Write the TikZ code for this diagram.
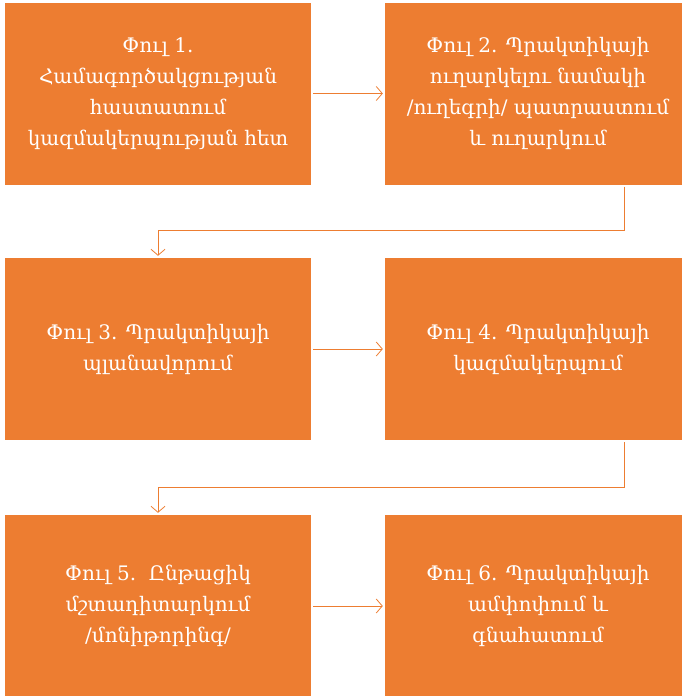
\documentclass[tikz,border=0pt]{standalone}
\usepackage{fontspec}
\setmainfont{DejaVu Serif}
\usetikzlibrary{arrows.meta}
\definecolor{phaseorange}{HTML}{ED7D31}
\begin{document}
\begin{tikzpicture}[
    x=1pt, y=-1pt,
    phase/.style={fill=phaseorange, text=white, minimum width=306pt, minimum height=182pt, inner sep=0pt, align=center, font=\fontsize{20}{31}\selectfont},
    link/.style={draw=phaseorange, line width=0.8pt, -{Straight Barb[length=6pt,width=14pt]}, shorten <=2pt, shorten >=2pt},
]
    \useasboundingbox (0,0) rectangle (682,696);

    % Six phases
    \node[phase] (p1) at (158, 93.5) {Փուլ 1.\\Համագործակցության\\հաստատում\\կազմակերպության հետ};
    \node[phase] (p2) at (538, 93.5) {Փուլ 2. Պրակտիկայի\\ուղարկելու նամակի\\/ուղեգրի/ պատրաստում\\և ուղարկում};
    \node[phase] (p3) at (158, 349) {Փուլ 3. Պրակտիկայի\\պլանավորում};
    \node[phase] (p4) at (538, 349) {Փուլ 4. Պրակտիկայի\\կազմակերպում};
    \node[phase] (p5) at (158, 606) {Փուլ 5.\ \ Ընթացիկ\\մշտադիտարկում\\/մոնիթորինգ/};
    \node[phase] (p6) at (538, 606) {Փուլ 6. Պրակտիկայի\\ամփոփում և\\գնահատում};

    % Bends
    \coordinate (b2) at (624, 230);
    \coordinate (b4) at (624, 487);

    % Arrows
    \draw[link] (p1) -- (p2);
    \draw[link] (b2 |- p2.south) -- (b2) -| (p3.north);
    \draw[link] (p3) -- (p4);
    \draw[link] (b4 |- p4.south) -- (b4) -| (p5.north);
    \draw[link] (p5) -- (p6);
\end{tikzpicture}
\end{document}
